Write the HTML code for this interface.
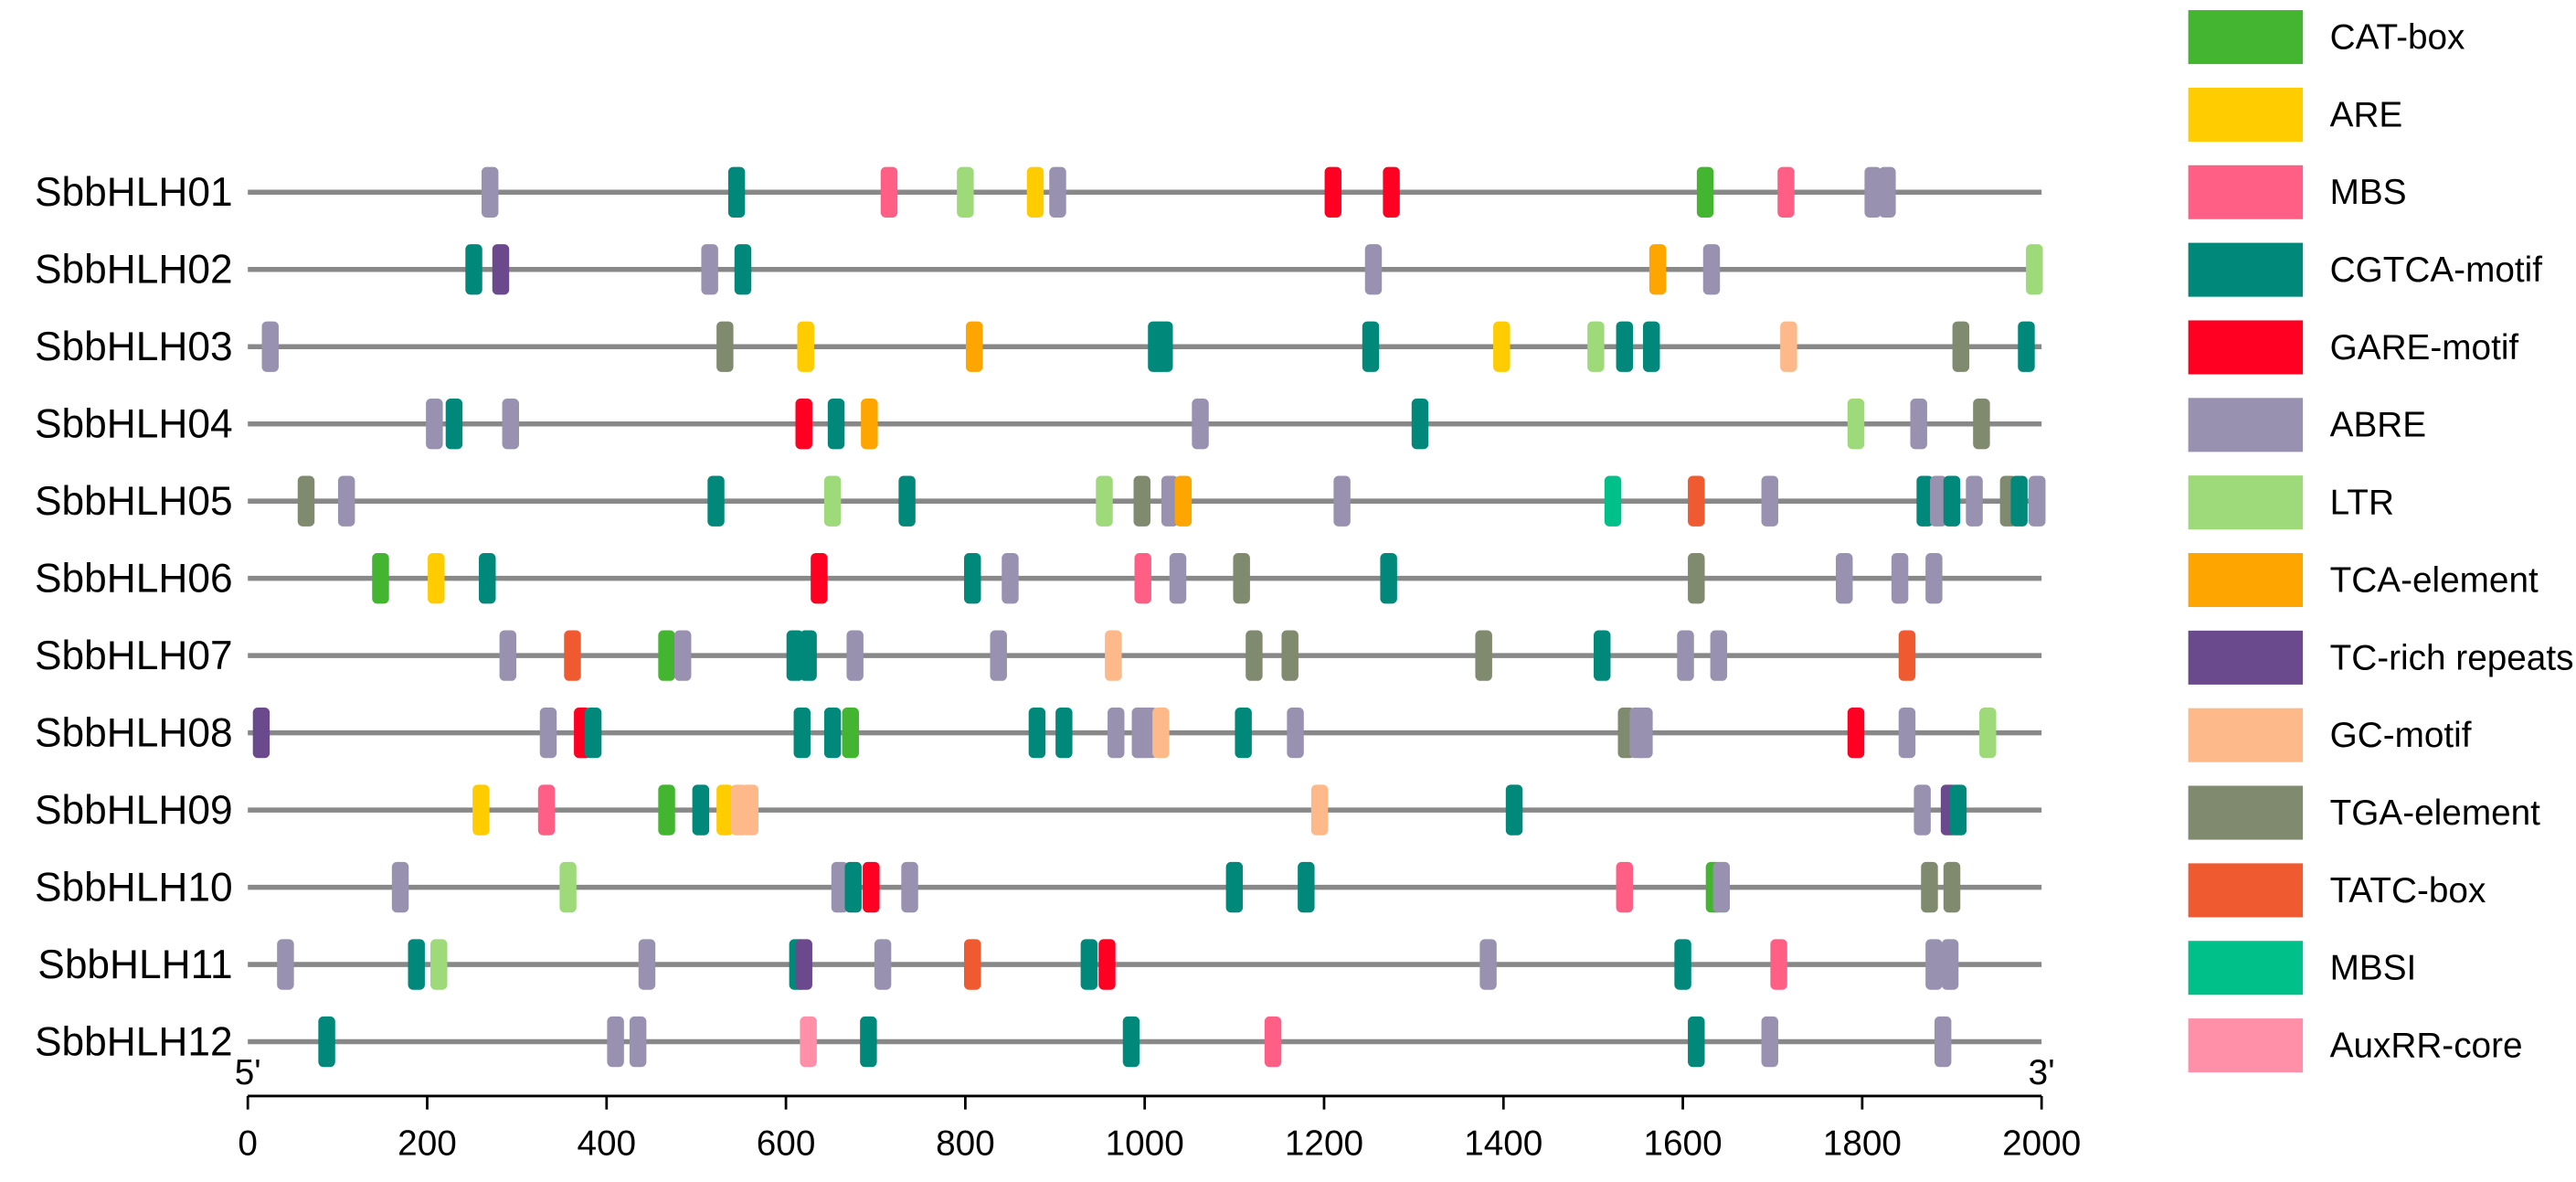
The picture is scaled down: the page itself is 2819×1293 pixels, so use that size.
<!DOCTYPE html>
<html><head><meta charset="utf-8">
<style>
html,body{margin:0;padding:0;background:#fff;}
svg{display:block;font-family:"Liberation Sans",sans-serif;}
</style></head>
<body>
<svg id="chart" width="2819" height="1293" viewBox="0 0 1528 701" preserveAspectRatio="none" xmlns="http://www.w3.org/2000/svg"></svg>
<script>
const genes = ["SbbHLH01","SbbHLH02","SbbHLH03","SbbHLH04","SbbHLH05","SbbHLH06","SbbHLH07","SbbHLH08","SbbHLH09","SbbHLH10","SbbHLH11","SbbHLH12"];
const elementTypes = ["CAT-box","ARE","MBS","CGTCA-motif","GARE-motif","ABRE","LTR","TCA-element","TC-rich repeats","GC-motif","TGA-element","TATC-box","MBSI","AuxRR-core"];
const typeColors = ["#44b530","#ffcc00","#ff5f84","#00897b","#ff0022","#9891b0","#9ed97a","#ffa500","#6a4a8c","#fdb98a","#808a6f","#f05a30","#00c08a","#ff90a8"];
const xTicks = [0,200,400,600,800,1000,1200,1400,1600,1800,2000];
const row01 = [["ABRE",270],["CGTCA-motif",545],["MBS",715],["LTR",800],["ARE",878],["ABRE",903],["GARE-motif",1210],["GARE-motif",1275],["CAT-box",1625],["MBS",1715],["ABRE",1812],["ABRE",1828]];
const row02 = [["CGTCA-motif",252],["TC-rich repeats",282],["ABRE",515],["CGTCA-motif",552],["ABRE",1255],["TCA-element",1572],["ABRE",1632],["LTR",1992]];
const row03 = [["ABRE",25],["TGA-element",532],["ARE",622],["TCA-element",810],["CGTCA-motif",1013],["CGTCA-motif",1022],["CGTCA-motif",1252],["ARE",1398],["LTR",1503],["CGTCA-motif",1535],["CGTCA-motif",1565],["GC-motif",1718],["TGA-element",1910],["CGTCA-motif",1983]];
const row04 = [["ABRE",208],["CGTCA-motif",230],["ABRE",293],["GARE-motif",620],["CGTCA-motif",656],["TCA-element",693],["ABRE",1062],["CGTCA-motif",1307],["LTR",1793],["ABRE",1863],["TGA-element",1933]];
const row05 = [["TGA-element",65],["ABRE",110],["CGTCA-motif",522],["LTR",652],["CGTCA-motif",735],["LTR",955],["TGA-element",997],["ABRE",1028],["TCA-element",1043],["ABRE",1220],["MBSI",1522],["TATC-box",1615],["ABRE",1697],["CGTCA-motif",1870],["ABRE",1885],["CGTCA-motif",1900],["ABRE",1925],["TGA-element",1963],["CGTCA-motif",1975],["ABRE",1995]];
const row06 = [["CAT-box",148],["ARE",210],["CGTCA-motif",267],["GARE-motif",637],["CGTCA-motif",808],["ABRE",850],["MBS",998],["ABRE",1037],["TGA-element",1108],["CGTCA-motif",1272],["TGA-element",1615],["ABRE",1780],["ABRE",1842],["ABRE",1880]];
const row07 = [["ABRE",290],["TATC-box",362],["CAT-box",467],["ABRE",485],["CGTCA-motif",610],["CGTCA-motif",625],["ABRE",677],["ABRE",837],["GC-motif",965],["TGA-element",1122],["TGA-element",1162],["TGA-element",1378],["CGTCA-motif",1510],["ABRE",1603],["ABRE",1640],["TATC-box",1850]];
const row08 = [["TC-rich repeats",15],["ABRE",335],["GARE-motif",373],["CGTCA-motif",385],["CGTCA-motif",618],["CGTCA-motif",652],["CAT-box",672],["CGTCA-motif",880],["CGTCA-motif",910],["ABRE",968],["ABRE",995],["ABRE",1005],["GC-motif",1018],["CGTCA-motif",1110],["ABRE",1168],["TGA-element",1537],["ABRE",1550],["ABRE",1557],["GARE-motif",1793],["ABRE",1850],["LTR",1940]];
const row09 = [["ARE",260],["MBS",333],["CAT-box",467],["CGTCA-motif",505],["ARE",532],["GC-motif",548],["GC-motif",560],["GC-motif",1195],["CGTCA-motif",1412],["ABRE",1867],["TC-rich repeats",1897],["CGTCA-motif",1907]];
const row10 = [["ABRE",170],["LTR",357],["ABRE",660],["CGTCA-motif",675],["GARE-motif",695],["ABRE",738],["CGTCA-motif",1100],["CGTCA-motif",1180],["MBS",1535],["CAT-box",1635],["ABRE",1643],["TGA-element",1875],["TGA-element",1900]];
const row11 = [["ABRE",42],["CGTCA-motif",188],["LTR",213],["ABRE",445],["CGTCA-motif",613],["TC-rich repeats",620],["ABRE",708],["TATC-box",808],["CGTCA-motif",938],["GARE-motif",958],["ABRE",1383],["CGTCA-motif",1600],["MBS",1707],["ABRE",1880],["ABRE",1898]];
const row12 = [["CGTCA-motif",88],["ABRE",410],["ABRE",435],["AuxRR-core",625],["CGTCA-motif",692],["CGTCA-motif",985],["MBS",1143],["CGTCA-motif",1615],["ABRE",1697],["ABRE",1890]];
const rows = [row01,row02,row03,row04,row05,row06,row07,row08,row09,row10,row11,row12];

const NS="http://www.w3.org/2000/svg";
const svg=document.getElementById('chart');
const X0=147, X1=1211, Y0=114, DY=45.8;
const xScale=v=>X0+(v/2000)*(X1-X0);
const yScale=i=>Y0+i*DY;
function mk(tag,attrs,parent){const e=document.createElementNS(NS,tag);for(const k in attrs)e.setAttribute(k,attrs[k]);(parent||svg).appendChild(e);return e;}

genes.forEach((g,i)=>{
  const y=yScale(i);
  const grp=mk('g',{});
  
  
  const t=mk('text',{x:138,y:y+8,'text-anchor':'end','font-size':24,fill:'#000'},grp);
  t.textContent=g;
  
  
  const ln=mk('line',{x1:X0,x2:X1,y1:y,y2:y,stroke:'#888','stroke-width':3},grp);
  
  
  rows[i].forEach(([type,pos])=>{
    const c=typeColors[elementTypes.findIndex(n=>n.startsWith(type))];
    const r=mk('rect',{x:xScale(pos)-5,y:y-15,width:10,height:30,rx:3,fill:c},grp);
    
    
  });
});

const ax=mk('g',{});


mk('line',{x1:X0,x2:X1,y1:650,y2:650,stroke:'#000','stroke-width':1.5},ax);
xTicks.forEach(v=>{
  const x=xScale(v);
  mk('line',{x1:x,x2:x,y1:650,y2:658,stroke:'#000','stroke-width':1.5},ax);
  const t=mk('text',{x:x,y:685,'text-anchor':'middle','font-size':21},ax);
  t.textContent=v;
  
  
});
const p5=mk('text',{x:X0,y:643,'text-anchor':'middle','font-size':21},ax);p5.textContent="5'";


const p3=mk('text',{x:X1,y:643,'text-anchor':'middle','font-size':21},ax);p3.textContent="3'";



const lg=mk('g',{});


elementTypes.forEach((n,i)=>{
  const y=22+i*46;
  const e=mk('g',{},lg);
  
  
  mk('rect',{x:1298,y:y-16,width:68,height:32,fill:typeColors[i]},e);
  const t=mk('text',{x:1382,y:y+7,'font-size':21},e);
  t.textContent=n;
});
</script>
</body></html>
